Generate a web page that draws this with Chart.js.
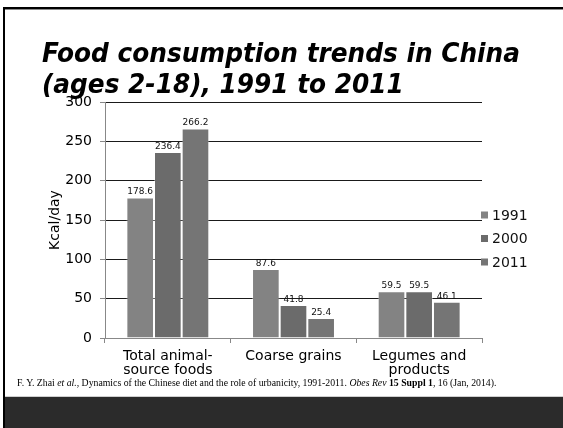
<!DOCTYPE html>
<html>
<head>
<meta charset="utf-8">
<title>Food consumption trends in China</title>
<script src="https://cdn.jsdelivr.net/npm/chart.js@4.4.1/dist/chart.umd.min.js"></script>
<style>
  html, body { margin: 0; padding: 0; background: #fff; }
  #slide { position: relative; width: 563px; height: 428px; overflow: hidden; background: #fff; }
  #frameTop { position: absolute; left: 3px; top: 7px; right: 0; height: 2px; background: #000; border-bottom: 1px solid #8a8a8a; }
  #frameLeft { position: absolute; left: 3px; top: 7px; width: 2px; bottom: 0; background: #000; }
  #band { position: absolute; left: 5px; right: 0; top: 396px; bottom: 0; background: #2b2b2b; border-top: 1px solid #cfcfcf; }
  #chart { position: absolute; left: 0; top: 0; }
  #title { position: absolute; left: 42px; top: 37px; font: italic bold 27px/31px "DejaVu Sans", Verdana, sans-serif; color: #000; white-space: nowrap; transform-origin: 0 0; }
  #title span { display: block; }
  #cite { position: absolute; left: 17px; top: 379px; font-family: "Liberation Serif", "Times New Roman", serif; font-size: 8px; line-height: 1; color: #000; white-space: nowrap; }
</style>
</head>
<body>
<div id="slide">
  <div id="frameTop"></div>
  <div id="frameLeft"></div>
  <div id="band"></div>
  <canvas id="chart" width="563" height="428"></canvas>
  <div id="title"><span id="titleLine1">Food consumption trends in China</span><span>(ages 2-18), 1991 to 2011</span></div>
  <div id="cite">F. Y. Zhai <i>et al.</i>, Dynamics of the Chinese diet and the role of urbanicity, 1991-2011. <i>Obes Rev</i> <b>15 Suppl 1</b>, 16 (Jan, 2014).</div>
</div>
<script>
  // Kcal/day by food group, children aged 2-18
  const foodGroups = [['Total animal-', 'source foods'], 'Coarse grains', ['Legumes and', 'products']];
  const surveyYears = ['1991', '2000', '2011'];
  const kcal1991 = [178.6, 87.6, 59.5];
  const kcal2000 = [236.4, 41.8, 59.5];
  const kcal2011 = [266.2, 25.4, 46.1];
  const yearColors = ['#838383', '#6b6b6b', '#757575'];

  const yMin = 0;
  const yMax = 300;
  const yStep = 50;

  const FONT = '"DejaVu Sans", Verdana, sans-serif';

  // squeeze the first title line to its slide width
  const line1 = document.getElementById('titleLine1');
  const titleEl = document.getElementById('title');
  const w = line1.getBoundingClientRect().width;
  titleEl.style.transform = 'scaleX(' + (478 / w) + ')';

  // fit the citation across the slide
  const cite = document.getElementById('cite');
  const cw = cite.getBoundingClientRect().width;
  const citeSize = 8 * 480 / cw;
  cite.style.fontSize = citeSize + 'px';
  cite.style.top = (386 - 0.84 * citeSize) + 'px';

  // value labels above each bar, drawn under the bars so neighbours overlap them
  const valueLabels = {
    id: 'valueLabels',
    beforeDatasetsDraw(chart) {
      const ctx = chart.ctx;
      ctx.save();
      ctx.font = '9px ' + FONT;
      ctx.fillStyle = '#111';
      ctx.textAlign = 'center';
      ctx.textBaseline = 'bottom';
      chart.data.datasets.forEach((ds, i) => {
        chart.getDatasetMeta(i).data.forEach((bar, j) => {
          ctx.fillText(ds.data[j].toFixed(1), bar.x, bar.y - 1);
        });
      });
      ctx.restore();
    }
  };

  // legend column sitting on the right end of the gridlines
  const sideLegend = {
    id: 'sideLegend',
    afterDraw(chart) {
      const ctx = chart.ctx;
      const area = chart.chartArea;
      ctx.save();
      ctx.font = '14px ' + FONT;
      ctx.textBaseline = 'middle';
      ctx.textAlign = 'left';
      chart.data.datasets.forEach((ds, i) => {
        const y = area.top + 113 + i * 23.5;
        ctx.fillStyle = ds.backgroundColor;
        ctx.fillRect(area.right - 1, y - 3.5, 7, 7);
        ctx.fillStyle = '#111';
        ctx.fillText(ds.label, area.right + 10, y + 1);
      });
      ctx.restore();
    }
  };

  const seriesValues = [kcal1991, kcal2000, kcal2011];

  new Chart(document.getElementById('chart'), {
    type: 'bar',
    data: {
      labels: foodGroups,
      datasets: surveyYears.map((year, i) => ({
        label: year,
        data: seriesValues[i],
        backgroundColor: yearColors[i],
        borderColor: 'rgba(255, 255, 255, 0.35)',
        borderWidth: 1,
        borderSkipped: 'bottom',
        categoryPercentage: 0.66,
        barPercentage: 1.0
      }))
    },
    options: {
      responsive: false,
      animation: false,
      devicePixelRatio: 1,
      layout: {
        padding: { top: 102, left: 43, right: 81, bottom: 40 }
      },
      plugins: {
        legend: { display: false },
        tooltip: { enabled: false },
        title: { display: false }
      },
      scales: {
        x: {
          afterFit: scale => { scale.height = 50; },
          grid: {
            drawOnChartArea: false,
            drawTicks: true,
            tickLength: 5,
            tickColor: '#888',
            offset: true
          },
          border: { color: '#888', width: 1 },
          ticks: {
            padding: 6,
            color: '#000',
            font: { family: FONT, size: 14, lineHeight: 1.0 }
          }
        },
        y: {
          min: yMin,
          max: yMax,
          afterFit: scale => { scale.width = 62; },
          grid: {
            color: '#1a1a1a',
            lineWidth: 1,
            drawTicks: true,
            tickLength: 5,
            tickColor: '#888'
          },
          border: { color: '#888', width: 1 },
          ticks: {
            stepSize: yStep,
            padding: 8,
            color: '#000',
            font: { family: FONT, size: 14 }
          },
          title: {
            display: true,
            text: 'Kcal/day',
            color: '#000',
            font: { family: FONT, size: 14 }
          }
        }
      }
    },
    plugins: [valueLabels, sideLegend]
  });
</script>
</body>
</html>
